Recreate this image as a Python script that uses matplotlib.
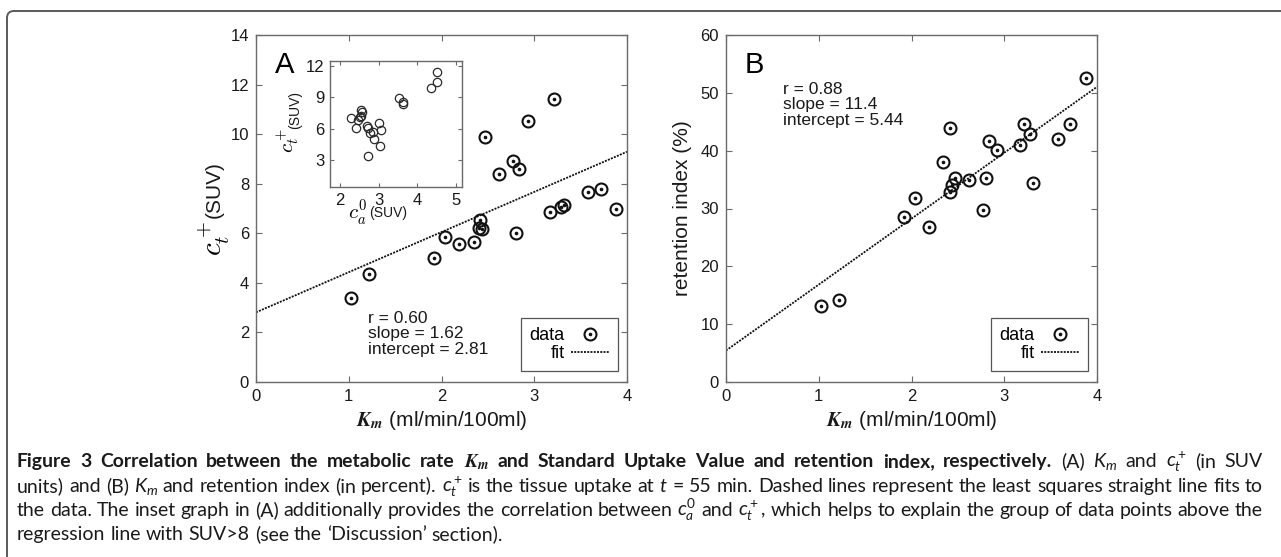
import matplotlib
matplotlib.use("Agg")
import matplotlib.pyplot as plt
from matplotlib.lines import Line2D
from matplotlib.legend_handler import HandlerTuple
from matplotlib.patches import FancyBboxPatch
from matplotlib.transforms import IdentityTransform

# panel A: K_m vs c_t+ (SUV)
km_a = [1.02, 1.22, 1.92, 2.04, 2.19, 2.35, 2.40, 2.41, 2.44, 2.47, 2.62,
        2.77, 2.80, 2.84, 2.93, 3.17, 3.21, 3.29, 3.32, 3.58, 3.72, 3.88]
ct_a = [3.39, 4.35, 5.02, 5.87, 5.56, 5.64, 6.21, 6.54, 6.19, 9.89, 8.40,
        8.92, 6.03, 8.59, 10.52, 6.84, 11.42, 7.05, 7.15, 7.66, 7.78, 7.00]

# panel B: K_m vs retention index (%)
km_b = [1.02, 1.22, 1.92, 2.04, 2.19, 2.34, 2.41, 2.41, 2.44, 2.47, 2.62,
        2.77, 2.80, 2.84, 2.92, 3.17, 3.21, 3.28, 3.31, 3.58, 3.71, 3.88]
ret_b = [13.2, 14.2, 28.5, 31.9, 26.8, 38.1, 43.9, 32.8, 34.0, 35.2, 34.9,
         29.8, 35.2, 41.6, 40.1, 41.0, 44.6, 42.9, 34.4, 42.1, 44.6, 52.6]

# inset: c_a0 vs c_t+
ca0_in = [2.28, 2.41, 2.47, 2.52, 2.55, 2.55, 2.57, 2.71, 2.74, 2.72, 2.77,
          2.86, 2.88, 3.01, 3.07, 3.05, 3.53, 3.62, 3.63, 4.34, 4.51, 4.51]
ct_in = [7.00, 6.05, 6.80, 7.08, 7.22, 7.78, 7.64, 6.21, 6.10, 3.40, 5.58,
         5.64, 5.03, 6.52, 5.86, 4.36, 8.93, 8.60, 8.38, 9.89, 10.50, 11.40]

# least squares fits (slope, intercept) as printed
fit_a = (1.62, 2.81)
fit_b = (11.4, 5.44)
stats_a = "r = 0.60\nslope = 1.62\nintercept = 2.81"
stats_b = "r = 0.88\nslope = 11.4\nintercept = 5.44"

plt.rcParams['font.family'] = ['Liberation Sans', 'DejaVu Sans']
plt.rcParams['mathtext.fontset'] = 'cm'
plt.rcParams['mathtext.it'] = 'Lato:italic'
plt.rcParams['mathtext.rm'] = 'Lato'
plt.rcParams['mathtext.bf'] = 'Lato:bold'
plt.rcParams['mathtext.sf'] = 'Lato'

W, H = 1281, 557
fig = plt.figure(figsize=(W / 100, H / 100), dpi=100)

spine_col = '#6a6a6a'
txt_col = '#1a1a1a'
dots = (0, (1.1, 0.7))


def style_axes(ax, size=12):
    for s in ax.spines.values():
        s.set_color(spine_col)
        s.set_linewidth(1.0)
    ax.tick_params(direction='in', length=4, width=0.8, color=spine_col,
                   top=True, right=True, labelsize=size, labelcolor=txt_col, pad=5)


def scatter_dots(ax, x, y):
    ring, = ax.plot(x, y, 'o', ms=8.6, mfc='none', mec='#111111', mew=1.5, ls='none')
    dot, = ax.plot(x, y, 'o', ms=1.6, color='#111111', ls='none')
    return ring, dot


def add_legend(ax, ring, dot, fitline):
    # markerfirst=False -> labels right aligned, symbols on the right (gnuplot look)
    leg = ax.legend([(ring, dot), fitline], ['data', 'fit'],
                    handler_map={tuple: HandlerTuple(ndivide=1)},
                    loc='lower right', bbox_to_anchor=(0.976, 0.032),
                    markerfirst=False, fancybox=False, framealpha=1,
                    edgecolor='#555555', fontsize=13, handlelength=2.1,
                    handletextpad=0.35, labelspacing=0.05, borderpad=0.5,
                    borderaxespad=0)
    leg.get_frame().set_linewidth(0.9)
    return leg


xs = [0, 4]

# ---- panel A
axA = fig.add_axes([256 / W, 1 - 382 / H, 371 / W, 347 / H])
style_axes(axA)
axA.plot(xs, [fit_a[1] + fit_a[0] * v for v in xs], color='#111111', lw=1.3, ls=dots)
ringA, dotA = scatter_dots(axA, km_a, ct_a)
fitA = Line2D([], [], color='#111111', lw=1.3, ls=dots)
add_legend(axA, ringA, dotA, fitA)
axA.set_xlim(0, 4)
axA.set_ylim(0, 14)
axA.set_xticks([0, 1, 2, 3, 4])
axA.set_yticks(range(0, 15, 2))
axA.text(0.051, 0.955, 'A', transform=axA.transAxes, fontsize=21, va='top', ha='left')
axA.text(0.302, 0.205, stats_a, transform=axA.transAxes, fontsize=12.5,
         va='top', ha='left', linespacing=1.05, color=txt_col)
axA.set_xlabel(r"$\mathbfit{K}_{\mathbfit{m}}$ (ml/min/100ml)", fontsize=15,
               math_fontfamily='stix', labelpad=4, color=txt_col)
axA.text(-0.112, 0.412, r"$c_t^+$", transform=axA.transAxes, rotation=90,
         fontsize=21, ha='center', va='center')
axA.text(-0.112, 0.556, "(SUV)", transform=axA.transAxes, rotation=90,
         fontsize=15, ha='center', va='center', color=txt_col)

# inset
axI = fig.add_axes([330 / W, 1 - 187 / H, 132 / W, 126 / H])
style_axes(axI, size=12)
axI.tick_params(length=3, pad=4)
axI.plot(ca0_in, ct_in, 'o', ms=6.0, mfc='none', mec='#2a2a2a', mew=0.9, ls='none')
axI.set_xlim(1.75, 5.15)
axI.set_ylim(0.4, 12.5)
axI.set_xticks([2, 3, 4, 5])
axI.set_yticks([3, 6, 9, 12])
axI.text(0.205, -0.21, r"$c_a^0$", transform=axI.transAxes, fontsize=15,
         ha='center', va='center')
axI.text(0.44, -0.21, "(SUV)", transform=axI.transAxes, fontsize=10,
         ha='center', va='center', color=txt_col)
axI.text(-0.32, 0.37, r"$c_t^+$", transform=axI.transAxes, rotation=90,
         fontsize=15, ha='center', va='center')
axI.text(-0.265, 0.61, "(SUV)", transform=axI.transAxes, rotation=90,
         fontsize=10, ha='center', va='center', color=txt_col)

# ---- panel B
axB = fig.add_axes([726 / W, 1 - 382 / H, 371 / W, 347 / H])
style_axes(axB)
axB.plot(xs, [fit_b[1] + fit_b[0] * v for v in xs], color='#111111', lw=1.3, ls=dots)
ringB, dotB = scatter_dots(axB, km_b, ret_b)
fitB = Line2D([], [], color='#111111', lw=1.3, ls=dots)
add_legend(axB, ringB, dotB, fitB)
axB.set_xlim(0, 4)
axB.set_ylim(0, 60)
axB.set_xticks([0, 1, 2, 3, 4])
axB.set_yticks(range(0, 61, 10))
axB.text(0.051, 0.955, 'B', transform=axB.transAxes, fontsize=21, va='top', ha='left')
axB.text(0.154, 0.865, stats_b, transform=axB.transAxes, fontsize=12.5,
         va='top', ha='left', linespacing=1.05, color=txt_col)
axB.set_xlabel(r"$\mathbfit{K}_{\mathbfit{m}}$ (ml/min/100ml)", fontsize=15,
               math_fontfamily='stix', labelpad=4, color=txt_col)
axB.set_ylabel("retention index (%)", fontsize=15, labelpad=6, color=txt_col)

fig.canvas.draw()
renderer = fig.canvas.get_renderer()

# ---- frame of the figure (top and left edges, rounded corner)
frame = FancyBboxPatch((7, -40), W + 60, H - 11 + 40,
                       boxstyle="round,pad=0,rounding_size=7",
                       transform=IdentityTransform(), fill=False,
                       ec='#5a5a5a', lw=1.4, clip_on=False)
fig.add_artist(frame)

# ---- caption (justified like the journal layout)
caption = [
    [("Figure 3 Correlation between the metabolic rate", 'b'),
     (r"$\mathbfit{K}_{\mathbfit{m}}$", 'bm'),
     ("and Standard Uptake Value and retention index, respectively.", 'b'),
     (r"(A) $K_m$ and $c_t^+$ (in SUV", 'r')],
    [(r"units) and (B) $K_m$ and retention index (in percent). $c_t^+$ is the tissue "
      r"uptake at $t$ = 55 min. Dashed lines represent the least squares straight line fits to", 'r')],
    [(r"the data. The inset graph in (A) additionally provides the correlation between "
      r"$c_a^0$ and $c_t^+$, which helps to explain the group of data points above the", 'r')],
    [("regression line with SUV>8 (see the \u2018Discussion\u2019 section).", 'r')],
]
baselines = [467, 492, 516, 540]
x0, x1 = 17, 1263
bold_end = 1000


def cap_text(x, y, s, style, size):
    kw = dict(family=['Lato', 'DejaVu Sans'], fontsize=size, va='baseline', ha='left',
              transform=IdentityTransform(), color='#1a1a1a')
    if style == 'b':
        kw['weight'] = 'bold'
        kw['math_fontfamily'] = 'custom'
    elif style == 'bm':
        kw['math_fontfamily'] = 'stix'
    else:
        kw['math_fontfamily'] = 'custom'
    return fig.text(x, y, s, **kw)


def width_of(s, style, size):
    t = cap_text(0, 0, s, style, size)
    w = t.get_window_extent(renderer).width
    t.remove()
    return w


size = 11 * (x1 - x0) / width_of(caption[1][0][0], 'r', 11)
space = width_of("a a", 'r', size) - width_of("aa", 'r', size)

# the bold heading of the original is set in a wider face; scale it to its span
bold_words = [(w, st) for s, st in caption[0][:3] for w in s.split(' ')]
bold_nat = sum(width_of(w, st, size) for w, st in bold_words) + space * (len(bold_words) - 1)
bold_size = size * min(1.12, (bold_end - x0) / bold_nat)

for i, (segs, yb) in enumerate(zip(caption, baselines)):
    words = [(w, st) for s, st in segs for w in s.split(' ')]
    items = []
    for w, st in words:
        fs = bold_size if st in ('b', 'bm') else size
        t = cap_text(0, H - yb, w, st, fs)
        items.append((t, t.get_window_extent(renderer).width))
    total = sum(wd for _, wd in items)
    if i < len(caption) - 1:
        gap = (x1 - x0 - total) / (len(items) - 1)
    else:
        gap = space
    x = x0
    for t, wd in items:
        t.set_x(x)
        x += wd + gap

fig.savefig("out.png", dpi=100)
